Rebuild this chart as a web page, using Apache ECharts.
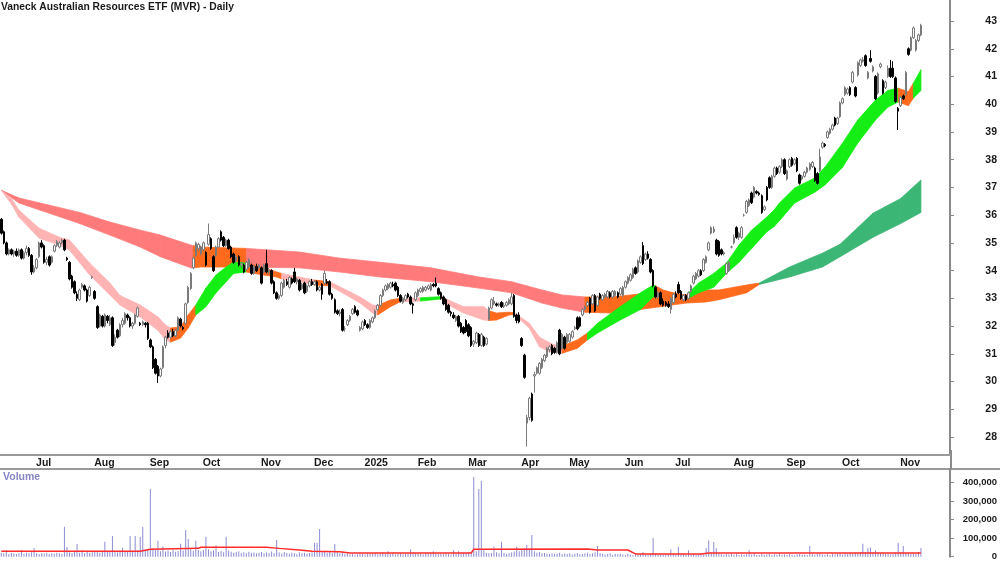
<!DOCTYPE html>
<html>
<head>
<meta charset="utf-8">
<title>MVR Daily</title>
<script src="https://cdn.jsdelivr.net/npm/echarts@6/dist/echarts.min.js"></script>
<style>
  html, body { margin: 0; padding: 0; background: #fff; }
  #chart { width: 1000px; height: 562px; }
</style>
</head>
<body>
<div id="chart"></div>
<script>
// daily candles, [open, close, low, high], one array per month
const jun24 = [[35.85,35.35,35.3,35.9],[35.4,35.0,34.95,35.45],[35.0,34.6,34.55,35.05],[34.6,34.75,34.55,34.8],[34.75,34.6,34.55,34.8],[34.6,34.7,34.5,34.75],[34.7,34.55,34.5,34.8],[34.55,34.75,34.5,34.8],[34.75,34.45,34.4,34.8],[34.45,34.65,34.4,34.7],[34.65,34.8,34.55,34.9],[34.8,34.55,34.5,34.85],[34.55,33.95,33.85,34.6]];
const jul24 = [[33.95,34.1,33.9,34.2],[34.1,34.4,34.05,34.45],[34.5,35.0,34.45,35.05],[35.0,34.85,34.8,35.1],[34.9,34.3,34.25,34.95],[34.3,34.4,34.2,34.5],[34.5,34.2,34.15,34.55],[34.3,34.5,34.25,34.55],[34.7,34.9,34.65,34.95],[34.9,35.05,34.85,35.1],[34.85,35.0,34.8,35.05],[35.0,35.1,34.95,35.15],[35.1,34.75,34.7,35.15],[34.45,34.4,34.35,34.5],[34.3,33.7,33.65,34.35],[33.8,33.4,33.35,33.85],[33.6,33.2,33.15,33.65],[33.15,33.0,32.9,33.25],[32.95,33.3,32.9,33.35],[33.4,33.5,33.35,33.55],[33.45,33.3,33.25,33.5],[33.3,32.9,32.85,33.35],[33.1,33.4,33.05,33.45]];
const aug24 = [[33.75,33.78,33.7,33.82],[33.25,33.0,32.95,33.3],[32.7,31.95,31.9,32.75],[32.0,32.4,31.95,32.45],[32.35,32.0,31.95,32.4],[32.0,32.4,31.95,32.45],[32.35,32.2,32.1,32.4],[32.05,32.3,32.0,32.4],[32.3,31.3,31.25,32.35],[31.4,31.6,31.3,31.7],[31.85,31.6,31.55,31.9],[31.65,32.05,31.6,32.1],[32.05,32.2,31.95,32.3],[32.1,32.45,32.05,32.5],[32.4,32.3,32.2,32.45],[32.3,32.0,31.95,32.35],[32.0,32.1,31.9,32.15],[32.1,32.4,32.05,32.45],[32.35,32.65,32.3,32.7],[32.1,32.05,32.0,32.15],[32.05,32.15,32.0,32.2],[32.1,32.05,31.95,32.15]];
const sep24 = [[32.1,31.55,31.5,32.15],[31.5,31.25,31.2,31.55],[31.25,30.5,30.45,31.3],[30.8,30.3,30.25,30.85],[30.55,30.2,29.95,30.6],[30.2,30.45,30.15,30.5],[30.5,31.25,30.45,31.3],[31.3,31.6,31.2,31.65],[31.75,31.6,31.55,31.85],[31.6,31.8,31.55,31.85],[31.8,31.65,31.6,31.9],[31.65,31.85,31.6,31.9],[31.85,32.3,31.8,32.35],[32.25,32.0,31.95,32.3],[31.95,31.9,31.85,32.0],[32.1,32.8,32.05,32.85],[32.85,33.4,32.8,33.45],[33.35,33.9,33.3,33.95],[34.1,34.45,34.05,34.5],[34.55,35.0,34.5,35.05],[34.8,34.95,34.7,35.0]];
const oct24 = [[34.6,34.85,34.55,34.9],[34.75,35.0,34.7,35.05],[34.65,34.2,34.15,34.7],[34.95,35.3,34.9,35.7],[35.15,34.8,34.75,35.2],[34.5,34.0,33.95,34.55],[34.55,34.85,34.5,34.9],[34.85,35.15,34.8,35.2],[35.4,35.1,35.05,35.45],[35.2,34.9,34.85,35.25],[34.9,35.1,34.85,35.15],[35.1,34.8,34.75,35.15],[34.85,34.5,34.45,34.9],[34.6,34.3,34.25,34.65],[34.35,34.5,34.3,34.55],[34.5,34.2,34.15,34.55],[34.2,34.25,34.1,34.3],[34.2,33.95,33.9,34.25],[34.05,34.3,34.0,34.35],[34.15,34.4,34.1,34.45],[34.2,33.9,33.85,34.25],[33.9,34.15,33.85,34.2],[34.15,34.0,33.95,34.25]];
const nov24 = [[34.1,34.2,34.05,34.25],[34.1,33.55,33.5,34.15],[33.95,34.2,33.9,34.25],[34.25,33.95,33.9,34.75],[33.95,34.0,33.85,34.1],[34.0,33.55,33.5,34.05],[33.6,33.2,33.15,33.65],[33.2,33.0,32.95,33.25],[33.0,33.1,32.95,33.15],[33.1,33.55,33.05,33.6],[33.4,33.65,33.35,33.7],[33.6,33.5,33.45,33.7],[33.4,33.75,33.35,33.8],[33.7,33.55,33.5,33.75],[33.95,33.6,33.55,34.1],[33.6,33.7,33.5,33.75],[33.65,33.3,33.25,33.7],[33.35,33.5,33.3,33.55],[33.55,33.2,33.15,33.6],[33.25,33.45,33.2,33.5],[33.45,33.6,33.4,33.65]];
const dec24 = [[33.6,33.5,33.45,33.7],[33.5,33.6,33.45,33.65],[33.6,33.3,33.25,33.65],[33.3,33.4,33.25,33.45],[33.5,33.15,32.95,33.55],[33.55,33.9,33.5,34.0],[33.6,33.55,33.5,33.7],[33.6,33.15,33.1,33.65],[33.15,33.0,32.95,33.2],[32.95,32.5,32.45,33.0],[32.55,32.45,32.4,32.6],[32.45,32.5,32.35,32.6],[32.6,31.85,31.8,32.65],[31.9,31.9,31.8,32.0],[32.05,32.2,32.0,32.25],[32.2,32.35,32.15,32.4],[32.45,32.6,32.4,32.65],[32.7,32.5,32.45,32.75],[32.55,32.4,32.35,32.6],[31.85,31.95,31.8,32.0]];
const jan25 = [[31.9,32.15,31.85,32.2],[32.2,32.05,32.0,32.25],[32.05,31.95,31.9,32.1],[31.95,32.2,31.9,32.25],[32.15,32.3,32.1,32.35],[32.3,32.55,32.25,32.6],[32.6,32.75,32.55,32.8],[32.75,33.1,32.7,33.15],[33.1,33.3,33.05,33.35],[33.3,33.45,33.25,33.5],[33.35,33.5,33.3,33.55],[33.4,33.55,33.35,33.6],[33.5,33.45,33.4,33.6],[33.55,33.3,33.25,33.6],[33.4,33.1,33.05,33.45],[33.1,32.9,32.85,33.15],[32.85,33.0,32.8,33.05],[32.95,33.1,32.9,33.15],[33.15,33.05,33.0,33.2],[33.05,32.8,32.75,33.1],[32.8,32.75,32.45,32.85]];
const feb25 = [[32.95,33.2,32.9,33.25],[33.1,33.3,33.05,33.35],[33.25,33.35,33.2,33.4],[33.25,33.4,33.2,33.45],[33.3,33.4,33.25,33.45],[33.35,33.45,33.3,33.5],[33.3,33.5,33.25,33.55],[33.5,33.45,33.4,33.55],[33.55,33.45,33.4,33.75],[33.35,33.15,33.1,33.4],[33.2,33.0,32.95,33.25],[33.05,32.8,32.75,33.1],[32.95,32.6,32.55,33.0],[32.75,32.5,32.45,32.8],[32.5,32.45,32.35,32.55],[32.4,32.3,32.25,32.5],[32.2,32.35,32.15,32.4],[32.35,32.0,31.95,32.4],[32.1,31.8,31.75,32.15],[31.95,31.75,31.7,32.0]];
const mar25 = [[32.2,31.8,31.75,32.25],[32.05,31.65,31.6,32.1],[31.95,31.3,31.25,32.0],[31.35,31.45,31.25,31.5],[31.4,31.75,31.35,31.8],[31.7,31.3,31.25,31.75],[31.3,31.7,31.25,31.75],[31.6,31.3,31.25,31.65],[31.35,31.55,31.3,31.6],[32.25,32.65,32.2,32.7],[32.65,32.95,32.6,33.0],[32.8,32.9,32.75,33.05],[32.8,32.75,32.7,32.85],[32.75,32.8,32.7,32.85],[32.85,32.7,32.65,32.9],[32.7,32.75,32.65,32.85],[32.75,32.85,32.7,32.9],[32.8,32.95,32.75,33.0],[32.8,33.05,32.75,33.2],[33.1,32.35,32.3,33.15],[32.4,32.2,32.1,32.45]];
const apr25 = [[32.4,32.15,32.1,32.5],[31.55,31.3,31.25,31.6],[30.95,30.15,30.1,31.0],[28.5,28.7,27.65,28.8],[28.7,29.4,28.6,29.45],[29.55,28.6,28.55,29.6],[30.2,30.25,29.6,30.35],[30.3,30.5,30.25,30.55],[30.3,30.65,30.25,30.7],[30.5,30.8,30.45,30.85],[30.75,30.95,30.7,31.0],[30.9,31.2,30.85,31.25],[31.15,31.25,31.05,31.3],[31.3,31.0,30.95,31.35],[31.2,31.05,31.0,31.25],[31.05,31.4,31.0,31.45],[31.85,31.0,30.95,31.9],[31.2,31.7,31.15,31.75],[31.6,31.2,31.15,31.65]];
const may25 = [[31.4,31.7,31.35,31.75],[31.45,31.7,31.4,31.75],[31.6,31.8,31.55,31.85],[31.9,31.95,31.85,32.0],[32.3,31.9,31.85,32.35],[32.3,32.0,31.95,32.35],[32.4,32.6,32.35,32.65],[32.6,32.7,32.55,32.75],[32.75,32.85,32.7,32.9],[33.0,32.5,32.45,33.05],[32.8,33.1,32.75,33.15],[33.1,32.55,32.5,33.15],[32.75,33.05,32.7,33.1],[33.15,33.0,32.95,33.2],[32.95,33.1,32.9,33.15],[33.05,33.15,33.0,33.2],[33.05,33.25,33.0,33.3],[33.2,33.05,33.0,33.25],[33.05,33.25,33.0,33.3],[33.1,33.25,33.05,33.3],[33.2,33.05,33.0,33.25],[33.15,33.35,33.1,33.4]];
const jun25 = [[33.1,33.4,33.05,33.45],[33.4,33.6,33.35,33.65],[33.55,33.75,33.5,33.8],[33.65,33.85,33.6,33.9],[33.75,34.05,33.7,34.1],[34.1,33.9,33.85,34.15],[33.95,34.35,33.9,34.4],[34.3,34.5,34.25,34.55],[34.9,34.25,34.2,35.03],[34.4,34.6,34.35,34.65],[34.6,34.45,34.4,34.7],[34.4,33.95,33.9,34.45],[34.0,33.45,33.4,34.05],[33.4,33.05,33.0,33.45],[33.05,33.2,33.0,33.25],[33.2,32.8,32.75,33.25],[32.9,32.75,32.7,33.0],[32.85,32.75,32.7,32.9],[32.8,32.7,32.65,32.9],[32.6,33.0,32.45,33.05]];
const jul25 = [[32.85,33.15,32.8,33.2],[33.15,33.05,33.0,33.25],[33.5,33.2,33.15,33.6],[33.25,33.0,32.95,33.3],[32.95,33.1,32.9,33.15],[33.1,32.95,32.9,33.15],[33.0,33.2,32.95,33.25],[33.25,33.45,33.2,33.5],[33.55,33.8,33.5,33.85],[33.7,33.9,33.65,33.95],[33.8,34.0,33.75,34.05],[34.0,33.85,33.8,34.05],[34.0,34.4,33.95,34.45],[34.3,34.5,34.25,34.55],[34.75,35.0,34.7,35.05],[35.35,35.55,35.3,35.6],[35.4,35.5,35.35,35.6],[35.1,34.6,34.55,35.15],[35.05,34.55,34.5,35.1],[34.75,34.6,34.55,34.8],[34.6,34.65,34.55,34.7],[33.9,34.25,33.85,34.3],[34.0,34.3,33.95,34.35]];
const aug25 = [[34.85,34.85,34.8,34.9],[35.0,35.2,34.95,35.3],[35.55,35.2,35.15,35.6],[35.2,35.35,35.1,35.4],[35.2,35.55,35.15,35.6],[36.0,36.0,35.95,36.05],[36.1,36.5,36.05,36.55],[36.35,36.55,36.3,36.6],[36.8,36.45,36.4,36.85],[36.65,37.0,36.6,37.05],[36.85,36.8,36.75,36.9],[36.8,36.75,36.7,36.85],[36.7,36.1,36.05,36.75],[36.2,36.3,36.15,36.35],[37.0,36.55,36.5,37.05],[37.35,37.0,36.95,37.4],[37.0,37.4,36.95,37.45],[37.4,37.7,37.35,37.75],[37.7,37.5,37.45,37.75],[37.55,37.75,37.5,37.8],[37.75,38.0,37.7,38.05]];
const sep25 = [[38.0,37.5,37.45,38.05],[37.3,37.6,37.25,37.65],[37.75,38.0,37.7,38.05],[38.05,37.8,37.75,38.1],[37.85,38.0,37.8,38.05],[38.05,37.6,37.55,38.1],[37.45,37.15,37.1,37.5],[37.3,37.4,37.25,37.45],[37.4,37.55,37.35,37.6],[37.55,37.7,37.5,37.75],[37.65,37.85,37.6,37.9],[37.75,37.9,37.7,37.95],[37.7,37.25,37.2,37.75],[37.5,37.15,37.1,37.55],[37.6,38.1,37.55,38.4],[38.45,38.6,38.4,38.65],[38.55,38.5,38.45,38.6],[38.8,39.0,38.75,39.05],[38.95,39.1,38.9,39.15],[39.1,39.25,39.05,39.3],[39.5,39.25,39.2,39.55],[39.3,39.5,39.25,39.55]];
const oct25 = [[39.55,40.05,39.5,40.1],[40.05,40.2,40.0,40.25],[40.35,40.6,40.3,40.65],[40.4,40.55,40.35,40.6],[40.6,40.35,40.3,40.65],[40.8,41.15,40.75,41.2],[40.6,40.3,40.25,40.65],[41.05,41.5,41.0,41.55],[41.4,41.6,41.35,41.65],[41.55,41.6,41.5,41.7],[41.75,41.4,41.35,41.8],[40.95,41.15,40.9,41.2],[41.65,41.55,41.5,41.95],[41.2,41.35,41.15,41.4],[41.0,40.2,40.15,41.05],[40.4,41.1,40.35,41.15],[41.35,41.45,41.3,41.5],[40.85,40.4,40.35,40.9],[40.6,40.8,40.55,40.85],[41.0,41.3,40.95,41.4],[41.3,41.0,40.95,41.6],[41.3,41.0,40.95,41.55],[40.95,40.1,40.05,41.0]];
const nov25 = [[39.85,39.75,39.07,39.9],[39.95,40.25,39.9,40.3],[40.3,40.2,40.15,40.35],[40.35,41.15,40.3,41.2],[42.0,41.8,41.75,42.05],[41.95,42.4,41.9,42.45],[42.4,42.75,42.35,42.8],[41.95,42.3,41.9,42.35],[42.3,42.5,42.25,42.55],[42.5,42.85,42.45,42.9]];

// daily volume, same order as the candles
const volume = [
  22000,18000,36000,15000,20000,17000,14000,19000,36000,16000,21000,18000,24000,
  47000,18000,15000,20000,17000,22000,14000,19000,16000,21000,18000,15000,162000,52000,24000,20000,26000,68000,22000,35000,19000,32000,21000,
  24000,30000,28000,22000,26000,81000,25000,30000,112000,28000,24000,33000,48000,27000,30000,112000,29000,112000,35000,106000,160000,38000,
  40000,366000,45000,38000,86000,30000,55000,28000,33000,25000,36000,27000,30000,70000,34000,144000,95000,40000,32000,86000,38000,
  30000,36000,108000,40000,28000,35000,60000,26000,31000,24000,108000,33000,27000,22000,25000,30000,20000,24000,18000,27000,21000,23000,19000,
  22000,26000,18000,24000,20000,28000,19000,90000,23000,17000,25000,20000,16000,22000,19000,15000,24000,18000,21000,16000,20000,
  24000,75000,75000,150000,30000,26000,22000,28000,20000,68000,24000,18000,26000,15000,17000,12000,14000,11000,13000,16000,
  15000,12000,18000,14000,16000,20000,13000,17000,22000,15000,30000,14000,18000,12000,16000,19000,13000,15000,17000,40000,21000,
  18000,14000,16000,12000,19000,15000,17000,30000,20000,14000,16000,13000,18000,15000,12000,35000,16000,30000,19000,22000,
  20000,26000,24000,431000,30000,366000,411000,35000,22000,18000,20000,55000,24000,17000,81000,21000,15000,19000,23000,28000,54000,
  30000,38000,45000,65000,40000,117000,30000,22000,25000,18000,20000,16000,14000,19000,15000,17000,21000,13000,16000,
  14000,18000,12000,16000,20000,13000,15000,17000,22000,14000,19000,24000,58000,20000,16000,12000,15000,18000,11000,14000,13000,16000,
  12000,9000,14000,11000,8000,13000,10000,15000,24000,12000,9000,16000,100000,18000,11000,14000,10000,12000,16000,40000,
  14000,10000,52000,12000,15000,9000,35000,11000,14000,10000,13000,16000,12000,47000,87000,24000,80000,45000,18000,13000,10000,15000,12000,
  14000,11000,16000,9000,13000,10000,15000,35000,12000,17000,9000,11000,14000,10000,12000,16000,9000,13000,11000,15000,10000,
  12000,9000,14000,11000,8000,13000,16000,10000,12000,9000,58000,14000,11000,15000,18000,12000,10000,13000,9000,16000,12000,14000,
  16000,12000,18000,14000,20000,15000,22000,17000,25000,70000,24000,45000,50000,18000,35000,21000,16000,19000,14000,17000,13000,15000,22000,
  75000,24000,58000,20000,18000,15000,17000,14000,26000,47000
];

// volume moving average, [bar, value]
const volAvg = [[0,30000],[55,30000],[59,40000],[78,45000],[79,51000],[105,51000],[110,45000],[118,36000],[123,30000],[134,27000],[138,20000],[186,20000],[187,40000],[232,42000],[236,36000],[248,36000],[251,15000],[277,15000],[280,20000],[364,20000]];

// short-term moving average ribbon: bar, lower, upper, colour of the stretch that starts there
const shortBars = [0,4,7,15,23,27,35,43,47,55,62,65,67,71,74,77,81,85,89,92,97,104,109,111,120,124,130,135,142,147,149,154,158,166,174,177,183,191,193,196,201,203,209,213,217,221,222,228,232,236,245,253,258,259,262,266,271,272,276,282,287,292,297,303,306,308,314,322,326,333,339,346,351,355,359,361,364];
const shortLo = [36.9,36.4,35.93,35.17,34.92,34.74,33.84,33.12,32.76,32.33,31.85,31.5,31.42,31.57,31.93,32.4,32.7,33.2,33.6,33.9,33.95,33.84,33.77,33.7,33.55,33.48,33.45,33.2,32.83,32.47,32.4,32.7,32.88,32.9,32.98,32.76,32.47,32.22,32.2,32.22,32.4,32.42,31.93,31.25,31.07,31.03,31.02,31.2,31.5,31.75,32.22,32.6,33.05,33.05,33.0,32.94,32.98,33.0,33.2,33.4,33.9,34.3,34.8,35.4,35.6,35.8,36.44,36.83,37.09,37.73,38.6,39.43,39.9,40.08,39.95,40.22,40.5];
const shortHi = [36.9,36.6,36.18,35.53,35.2,35.1,34.27,33.55,33.1,32.76,32.33,32.04,31.93,31.97,32.4,32.76,33.37,33.84,34.13,34.31,34.27,34.1,33.95,33.9,33.73,33.66,33.6,33.37,33.05,32.76,32.74,32.94,33.0,33.02,33.06,32.94,32.7,32.7,32.55,32.47,32.5,32.48,32.1,31.6,31.4,31.25,31.28,31.5,31.75,32.1,32.7,33.2,33.48,33.45,33.3,33.2,33.12,33.2,33.55,33.9,34.27,34.92,35.46,35.93,36.2,36.44,36.98,37.34,37.73,38.6,39.43,40.15,40.5,40.58,40.45,40.76,41.25];
const shortCol = 'PPPPPPPPPPPP' + 'OOO' + 'GGGGG' + 'OOO' + 'PP' + 'O' + 'PPPP' + 'OO' + 'P' + 'G' + 'PPPP' +
  'OOO' + 'PPPPP' + 'OO' + 'GGGGG' + 'OOOO' + 'GGGGGGGGGGGGGGGG' + 'OO' + 'G';

// long-term moving average ribbon
const longBars = [0,7,19,31,43,55,63,75,76,79,97,118,134,150,170,189,202,214,222,231,242,257,271,279,284,295,300,312,325,332,345,356,364];
const longLo = [36.9,36.44,36.07,35.7,35.28,34.85,34.5,34.1,34.1,34.13,34.13,34.1,33.95,33.77,33.6,33.37,33.2,32.83,32.65,32.5,32.47,32.65,32.83,32.87,32.95,33.2,33.5,33.77,34.13,34.5,35.2,35.7,36.1];
const longHi = [36.9,36.62,36.36,36.1,35.75,35.46,35.28,34.92,34.9,34.85,34.8,34.67,34.45,34.3,34.1,33.77,33.6,33.3,33.12,33.05,33.05,33.2,33.1,33.3,33.3,33.48,33.55,34.13,34.63,34.95,36.07,36.6,37.27];
const longCol = 'RRRRRRRR' + 'OO' + 'RRRRRRRRR' + 'OOOOOOO' + 'DDDDDD';

const monthStarts = [13,36,58,79,102,123,143,164,184,205,224,246,266,289,310,332,355];
const monthLabels = ['Jul','Aug','Sep','Oct','Nov','Dec','2025','Feb','Mar','Apr','May','Jun','Jul','Aug','Sep','Oct','Nov'];
const priceTicks = [28,29,30,31,32,33,34,35,36,37,38,39,40,41,42,43];
const volumeTicks = [0,100000,200000,300000,400000];

const palette = {
  P: '#ffb3b3', O: '#ff6a1c', G: '#14ee14',
  R: '#ff7b7b', D: '#3cb675'
};

const ohlc = [].concat(jun24, jul24, aug24, sep24, oct24, nov24, dec24, jan25, feb25, mar25, apr25, may25, jun25, jul25, aug25, sep25, oct25, nov25);
const slots = [];
for (let i = 0; i < 376; i++) slots.push(i);

const labelAt = {};
monthStarts.forEach(function (b, k) { labelAt[b] = monthLabels[k]; });
const isMonthStart = function (idx) { return labelAt[idx] !== undefined; };

function ribbon(bars, lo, hi, cols) {
  const data = [];
  for (let k = 0; k < bars.length - 1; k++) {
    data.push([bars[k], lo[k], hi[k], bars[k + 1], lo[k + 1], hi[k + 1]]);
  }
  return {
    type: 'custom',
    xAxisIndex: 0,
    yAxisIndex: 0,
    silent: true,
    encode: { x: [0, 3], y: [1, 2, 4, 5] },
    data: data,
    renderItem: function (params, api) {
      const a1 = api.coord([api.value(0), api.value(2)]);
      const b1 = api.coord([api.value(3), api.value(5)]);
      const b0 = api.coord([api.value(3), api.value(4)]);
      const a0 = api.coord([api.value(0), api.value(1)]);
      const c = palette[cols[params.dataIndex]];
      return {
        type: 'polygon',
        shape: { points: [a1, b1, b0, a0] },
        style: { fill: c, stroke: c, lineWidth: 0.8 }
      };
    }
  };
}

const font = '"Liberation Sans", Arial, sans-serif';

const option = {
  animation: false,
  backgroundColor: '#fff',
  title: {
    text: 'Vaneck Australian Resources ETF (MVR) - Daily',
    left: 1,
    top: 2,
    padding: 0,
    textStyle: { fontFamily: font, fontSize: 10.3, fontWeight: 'bold', color: '#1a1a1a' }
  },
  grid: [
    { left: 0, right: 49, top: 0, height: 455 },
    { left: 0, right: 49, top: 469, height: 87.7 }
  ],
  xAxis: [
    {
      type: 'category',
      gridIndex: 0,
      data: slots,
      boundaryGap: true,
      axisLine: { lineStyle: { color: '#9a9a9a', width: 2 } },
      axisTick: { interval: isMonthStart, length: 3, lineStyle: { color: '#9a9a9a' } },
      axisLabel: {
        interval: isMonthStart,
        formatter: function (v, idx) { return labelAt[idx] || ''; },
        align: 'left',
        margin: 3,
        padding: [0, 0, 0, 2],
        fontFamily: font, fontSize: 10.5, fontWeight: 'bold', color: '#1a1a1a'
      },
      splitLine: { show: false }
    },
    {
      type: 'category',
      gridIndex: 1,
      data: slots,
      boundaryGap: true,
      axisLine: { show: false },
      axisTick: { show: false },
      axisLabel: { show: false },
      splitLine: { show: false }
    }
  ],
  yAxis: [
    {
      type: 'value',
      gridIndex: 0,
      position: 'right',
      min: 27.35,
      max: 43.76,
      axisLine: { show: true, lineStyle: { color: '#8a8a8a', width: 2 } },
      axisTick: { show: true, length: 4, customValues: priceTicks, lineStyle: { color: '#8a8a8a' } },
      axisLabel: {
        customValues: priceTicks,
        align: 'right',
        margin: 47,
        fontFamily: font, fontSize: 10.5, fontWeight: 'bold', color: '#1a1a1a'
      },
      splitLine: { show: false }
    },
    {
      type: 'value',
      gridIndex: 1,
      position: 'right',
      min: 0,
      max: 474000,
      axisLine: { show: true, lineStyle: { color: '#8a8a8a', width: 2 } },
      axisTick: { show: true, length: 4, customValues: volumeTicks, lineStyle: { color: '#8a8a8a' } },
      axisLabel: {
        customValues: volumeTicks,
        align: 'right',
        margin: 47,
        formatter: function (v) { return v.toLocaleString('en-US'); },
        fontFamily: font, fontSize: 9.5, fontWeight: 'bold', color: '#1a1a1a'
      },
      splitLine: { show: false }
    }
  ],
  graphic: [
    { type: 'line', shape: { x1: 0, y1: 469, x2: 1000, y2: 469 }, style: { stroke: '#9a9a9a', lineWidth: 2 }, silent: true },
    { type: 'line', shape: { x1: 951, y1: 450, x2: 951, y2: 470 }, style: { stroke: '#8a8a8a', lineWidth: 2 }, silent: true },
    {
      type: 'text', left: 3, top: 472, silent: true,
      style: { text: 'Volume', fontFamily: font, fontSize: 10.5, fontWeight: 'bold', fill: '#8686c4' }
    }
  ],
  series: [
    ribbon(longBars, longLo, longHi, longCol),
    ribbon(shortBars, shortLo, shortHi, shortCol),
    {
      type: 'candlestick',
      xAxisIndex: 0,
      yAxisIndex: 0,
      data: ohlc,
      barWidth: 2,
      itemStyle: {
        color: '#ffffff',
        color0: '#000000',
        borderColor: '#7a7a7a',
        borderColor0: '#000000',
        borderWidth: 1
      }
    },
    {
      type: 'bar',
      xAxisIndex: 1,
      yAxisIndex: 1,
      data: volume,
      barWidth: 1,
      itemStyle: { color: '#8c8cd4' }
    },
    {
      type: 'line',
      xAxisIndex: 1,
      yAxisIndex: 1,
      data: volAvg,
      showSymbol: false,
      lineStyle: { color: '#ff2a2a', width: 1.5 }
    }
  ]
};

const myChart = echarts.init(document.getElementById('chart'));
myChart.setOption(option);
</script>
</body>
</html>
